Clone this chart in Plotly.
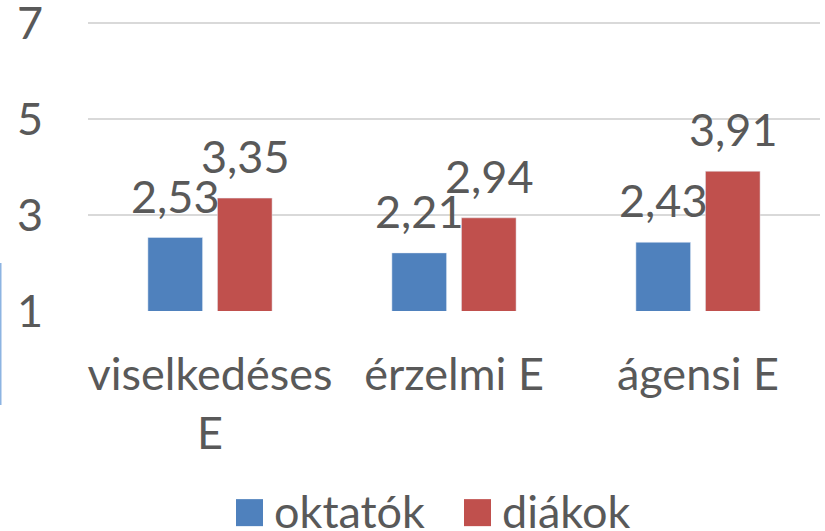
import plotly.graph_objects as go

# adatok
categories = ['viselkedéses<br>E', 'érzelmi E', 'ágensi E']
oktatok = [2.53, 2.21, 2.43]
diakok = [3.35, 2.94, 3.91]
series_names = ['oktatók', 'diákok']
colors = ['#4F81BD', '#C0504D']
y_ticks = [1, 3, 5, 7]

FONT = 'Lato'
GREY = '#595959'
SIZE = 45

fig = go.Figure()
for i, (name, vals, col) in enumerate(zip(series_names, [oktatok, diakok], colors)):
    fig.add_trace(go.Bar(x=categories, y=vals, name=name, marker_color=col))
    # értékcímkék az oszlopok fölött
    shift = -35 if i == 0 else 35
    for c, v in zip(categories, vals):
        fig.add_annotation(x=c, y=v, text=f'{v:.2f}'.replace('.', ','),
                           showarrow=False, xshift=shift, yshift=13,
                           yanchor='bottom', xanchor='center',
                           font=dict(size=SIZE, color=GREY, family=FONT))

fig.update_layout(
    width=825, height=531,
    margin=dict(l=88, r=5, t=18.2, b=220, autoexpand=False),
    paper_bgcolor='white', plot_bgcolor='white',
    font=dict(family=FONT, size=SIZE, color=GREY),
    barmode='group', bargap=0.43, bargroupgap=0.214,
    showlegend=False,
)
fig.update_xaxes(showgrid=False, showline=False, ticks='', ticklabelstandoff=33,
                 automargin=False, tickfont=dict(size=SIZE, color=GREY))
fig.update_yaxes(range=[1, 7.1], tickvals=y_ticks, showgrid=True, gridcolor='#D9D9D9',
                 gridwidth=1.5, zeroline=False, showline=False, ticklabelstandoff=44,
                 ticklabeloverflow='allow', automargin=False,
                 tickfont=dict(size=SIZE, color=GREY))

# kézi jelmagyarázat (nagy négyzetekkel)
pw = 732
ph = 292.8
bottom = 311
legend_x = [236, 464]
for name, col, lx in zip(series_names, colors, legend_x):
    fig.add_shape(type='rect', xref='paper', yref='paper',
                  x0=(lx - 88) / pw, x1=(lx + 27 - 88) / pw,
                  y0=-(499 - bottom) / ph, y1=-(526 - bottom) / ph,
                  fillcolor=col, line=dict(width=0))
    fig.add_annotation(xref='paper', yref='paper', x=(lx + 36 - 88) / pw,
                       y=-(511 - bottom) / ph, text=name, showarrow=False,
                       xanchor='left', yanchor='middle',
                       font=dict(size=SIZE, color=GREY, family=FONT))

# vékony kék vonal a bal szélen
fig.add_shape(type='line', xref='paper', yref='paper', x0=-87.5 / pw, x1=-87.5 / pw,
              y0=-(263 - bottom) / ph, y1=-(405 - bottom) / ph,
              line=dict(color='#8DB4E2', width=2))

fig.write_html('out.html', config={'displayModeBar': False},
               post_script="document.body.style.margin='0px';")
